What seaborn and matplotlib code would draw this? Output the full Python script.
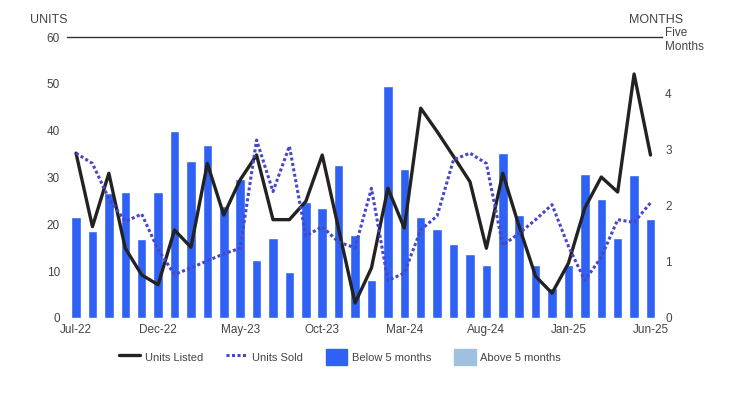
import numpy as np
import pandas as pd
import seaborn as sns
import matplotlib.pyplot as plt
from matplotlib.lines import Line2D
from matplotlib.patches import Patch

months = ['Jul-22', 'Aug-22', 'Sep-22', 'Oct-22', 'Nov-22', 'Dec-22',
          'Jan-23', 'Feb-23', 'Mar-23', 'Apr-23', 'May-23', 'Jun-23',
          'Jul-23', 'Aug-23', 'Sep-23', 'Oct-23', 'Nov-23', 'Dec-23',
          'Jan-24', 'Feb-24', 'Mar-24', 'Apr-24', 'May-24', 'Jun-24',
          'Jul-24', 'Aug-24', 'Sep-24', 'Oct-24', 'Nov-24', 'Dec-24',
          'Jan-25', 'Feb-25', 'Mar-25', 'Apr-25', 'May-25', 'Jun-25']

# months of inventory (right axis)
inventory = [1.80, 1.55, 2.22, 2.24, 1.41, 2.24, 3.33, 2.79, 3.08, 1.99, 2.47, 1.03,
             1.43, 0.82, 2.06, 1.96, 2.72, 1.48, 0.68, 4.12, 2.66, 1.80, 1.58, 1.31,
             1.14, 0.95, 2.94, 1.84, 0.95, 0.53, 0.95, 2.57, 2.11, 1.43, 2.55, 1.77]

# units (left axis)
units_listed = [35.2, 19.5, 30.9, 14.9, 9.2, 7.1, 18.8, 15.1, 33.0, 22.0, 29.5, 34.8,
                21.0, 21.0, 24.9, 34.8, 19.0, 3.2, 10.7, 27.7, 19.2, 44.8, 39.8, 34.5,
                29.1, 14.9, 30.9, 19.5, 8.9, 5.3, 11.7, 23.5, 30.1, 26.9, 52.1, 34.8]
units_sold = [35.2, 33.0, 25.5, 20.6, 22.2, 14.6, 9.3, 10.7, 12.2, 13.7, 14.9, 38.0,
              27.0, 36.7, 17.5, 19.5, 16.2, 15.0, 27.7, 8.0, 9.6, 18.8, 21.8, 33.8,
              35.2, 33.0, 15.5, 18.1, 21.0, 24.2, 15.3, 8.0, 13.0, 21.0, 20.4, 24.6]

tick_months = ['Jul-22', 'Dec-22', 'May-23', 'Oct-23', 'Mar-24', 'Aug-24', 'Jan-25', 'Jun-25']

df = pd.DataFrame({'month': months, 'inventory': inventory,
                   'listed': units_listed, 'sold': units_sold})
df['idx'] = np.arange(len(df))

sns.set_style('white')
plt.rcParams['font.family'] = ['Liberation Sans', 'DejaVu Sans']

fig = plt.figure(figsize=(7.32, 3.95), dpi=100)
ax = fig.add_axes([67 / 732, 1 - 318 / 395, 595 / 732, 281 / 395])
ax2 = ax.twinx()

bar_color = '#2F62F4'
sns.barplot(data=df, x='idx', y='inventory', color=bar_color, saturation=1,
            width=0.58, ax=ax, order=list(range(len(df))))
ax.set_ylim(0, 5)
ax.set_xlim(-0.55, len(df) - 0.3)
ax.set_xlabel('')
ax.set_ylabel('')

sns.lineplot(data=df, x='idx', y='listed', color='#222222', lw=2.4, ax=ax2)
sns.lineplot(data=df, x='idx', y='sold', color='#4747C8', lw=2.2,
             linestyle=(0, (1, 0.8)), ax=ax2)
ax2.set_ylim(0, 60)
ax2.set_xlabel('')
ax2.set_ylabel('')

# months axis on the right, units axis on the left
ax.yaxis.tick_right()
ax.set_yticks([0, 1, 2, 3, 4, 5])
ax.set_yticklabels(['0', '1', '2', '3', '4', 'Five\nMonths'], linespacing=1.25)
ax.tick_params(axis='y', left=False, right=False, labelleft=False, labelright=True,
               pad=-1.3, labelsize=8.5, labelcolor='#444444')

ax2.yaxis.tick_left()
ax2.set_yticks(range(0, 61, 10))
ax2.tick_params(axis='y', left=False, right=False, labelleft=True, labelright=False,
                pad=1.5, labelsize=8.5, labelcolor='#444444')

tick_pos = [months.index(m) for m in tick_months]
ax.set_xticks(tick_pos)
ax.set_xticklabels(tick_months)
ax.tick_params(axis='x', length=0, pad=4, labelsize=8.5, labelcolor='#444444')

for a in (ax, ax2):
    for s in ['left', 'right', 'bottom', 'top']:
        a.spines[s].set_visible(False)
ax2.spines['top'].set_visible(True)
ax2.spines['top'].set_color('#333333')
ax2.spines['top'].set_linewidth(1)

fig.text(30 / 732, 1 - 20 / 395, 'UNITS', fontsize=9, color='#444444', va='center', ha='left')
fig.text(683 / 732, 1 - 20 / 395, 'MONTHS', fontsize=9, color='#444444', va='center', ha='right')

handles = [Line2D([0], [0], color='#222222', lw=2.4),
           Line2D([0], [0], color='#4747C8', lw=2.2, linestyle=(0, (1, 0.8))),
           Patch(color=bar_color), Patch(color='#A0C0E2')]
labels = ['Units Listed', 'Units Sold', 'Below 5 months', 'Above 5 months']
fig.legend(handles, labels, loc='center', bbox_to_anchor=(340 / 732, 1 - 357 / 395), ncol=4,
           frameon=False, fontsize=8, handlelength=1.9, handleheight=1.8,
           handletextpad=0.4, columnspacing=2.1, labelcolor='#444444')

fig.savefig('out.png', dpi=100)
